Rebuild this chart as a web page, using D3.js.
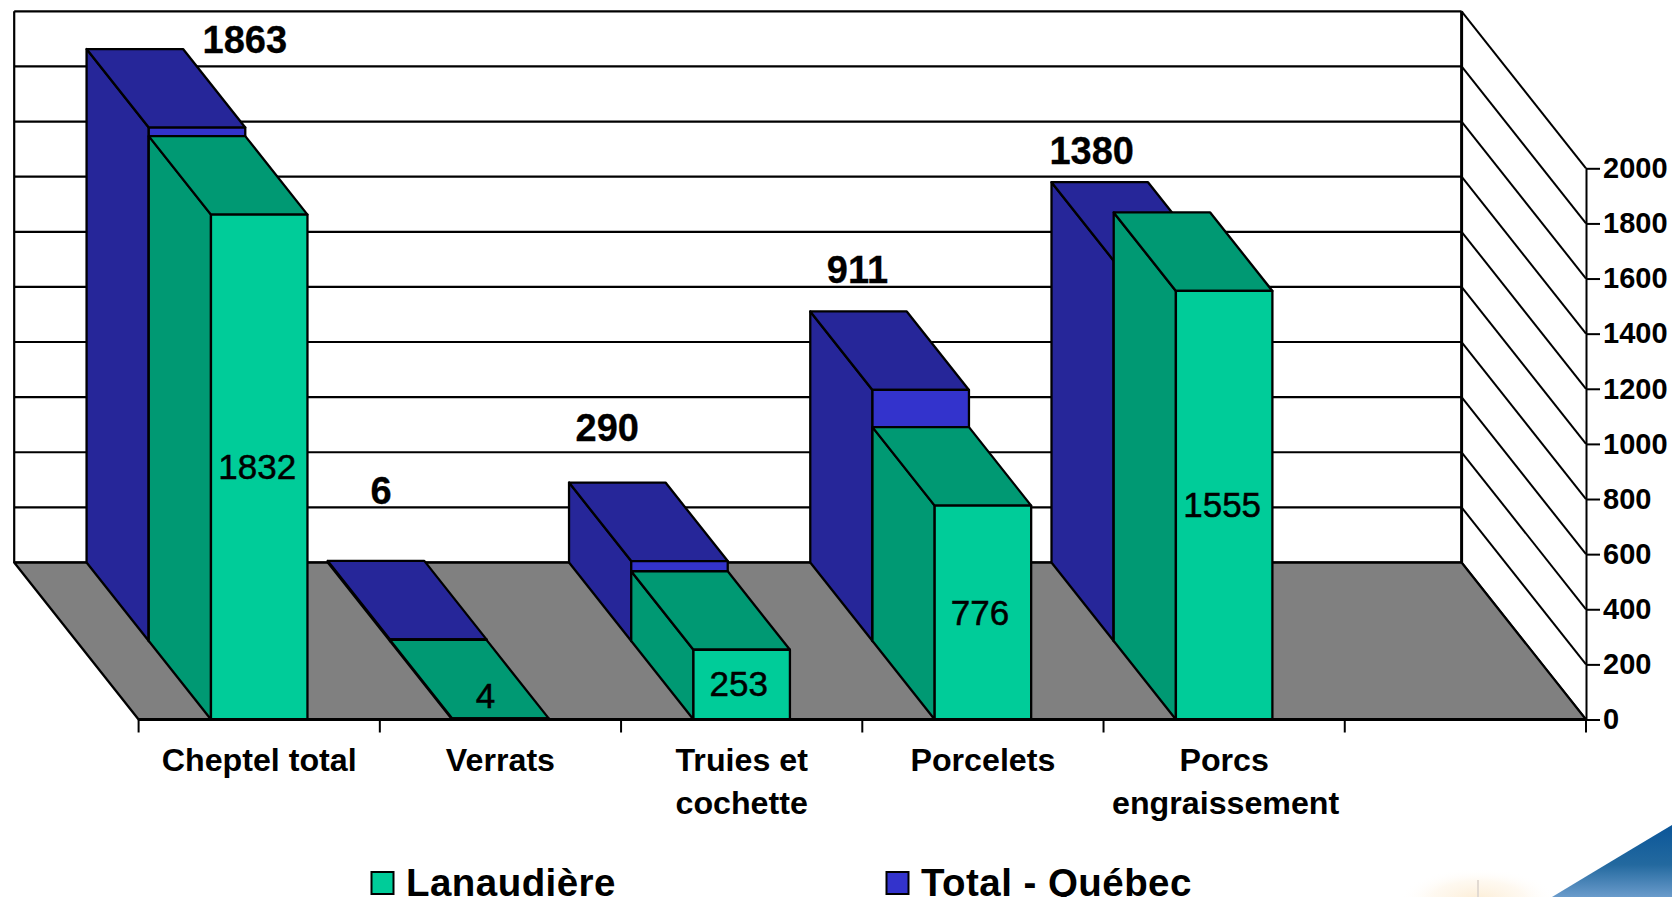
<!DOCTYPE html>
<html>
<head>
<meta charset="utf-8">
<script src="https://cdn.jsdelivr.net/npm/d3@7"></script>
<style>
  html, body { margin: 0; padding: 0; background: #fff; overflow: hidden; }
  svg { display: block; font-family: "Liberation Sans", Arial, sans-serif; }
</style>
</head>
<body>
<div class="chart"></div>
<script>
const categories = ["Cheptel total", "Verrats", "Truies et\ncochette", "Porcelets", "Porcs\nengraissement", ""];
const lanaudiere = [1832, 4, 253, 776, 1555];
const totalQuebec = [1863, 6, 290, 911, 1380];
const yTicks = [0, 200, 400, 600, 800, 1000, 1200, 1400, 1600, 1800, 2000];

// hand placed labels in the original, offsets from the bar they belong to
const totalNudge = [[110, 4], [5, -57], [-10, -42], [-1, -28], [-8, -18]];
const lanaNudge = [[-2, -1], [-15, -24], [-3, -1], [-3, 0], [-2, -1]];

const width = 1672, height = 897;
const frontLeft = 138.6, frontRight = 1586, frontBottom = 719.5, frontTop = 168.3;
const depthX = 124.4, depthY = 157;  // full floor depth

const svg = d3.select(".chart").append("svg")
    .attr("width", width)
    .attr("height", height);

const defs = svg.append("defs");
const glow = defs.append("radialGradient").attr("id", "glow");
glow.append("stop").attr("offset", "0%").attr("stop-color", "#fcebd0").attr("stop-opacity", 0.9);
glow.append("stop").attr("offset", "60%").attr("stop-color", "#fef6ea").attr("stop-opacity", 0.7);
glow.append("stop").attr("offset", "100%").attr("stop-color", "#ffffff").attr("stop-opacity", 0);
const sky = defs.append("linearGradient").attr("id", "sky")
    .attr("x1", "0%").attr("y1", "0%").attr("x2", "0%").attr("y2", "100%");
sky.append("stop").attr("offset", "0%").attr("stop-color", "#0b5699");
sky.append("stop").attr("offset", "55%").attr("stop-color", "#23699f");
sky.append("stop").attr("offset", "100%").attr("stop-color", "#6a9bcb");

const x = d3.scaleBand()
    .domain(categories)
    .range([frontLeft, frontRight])
    .paddingInner(0.6)
    .paddingOuter(0.3);

const y = d3.scaleLinear()
    .domain([0, 2000])
    .range([frontBottom, frontTop]);

// depth runs from 0 at the front edge of the floor to 2 at the back wall
const depth = d3.scaleLinear().domain([0, 2]).range([0, 1]);

function project(px, value, row) {
    const t = depth(row);
    return [px - t * depthX, y(value) - t * depthY];
}

const line = d3.line();
const stroke = "#000";

function poly(points, fill) {
    svg.append("path")
        .attr("d", line(points) + "Z")
        .attr("fill", fill)
        .attr("stroke", stroke)
        .attr("stroke-width", 2.3)
        .attr("stroke-linejoin", "round");
}

// corner decoration of the slide
svg.append("ellipse")
    .attr("cx", 1478).attr("cy", 900).attr("rx", 78).attr("ry", 32)
    .attr("fill", "url(#glow)");
svg.append("line")
    .attr("x1", 1478).attr("x2", 1478).attr("y1", 880).attr("y2", 897)
    .attr("stroke", "#e2dad2").attr("stroke-width", 2);
svg.append("path")
    .attr("d", "M1672,825 Q1610,862 1552,897 L1672,897 Z")
    .attr("fill", "url(#sky)");

// back wall and grid
const gridG = svg.append("g");
yTicks.forEach(t => {
    const [bx, by] = project(frontLeft, t, 2);
    const [rx, ry] = project(frontRight, t, 2);
    gridG.append("line")
        .attr("x1", bx).attr("y1", by).attr("x2", rx).attr("y2", ry)
        .attr("stroke", stroke).attr("stroke-width", 2.2);
    gridG.append("line")
        .attr("x1", rx).attr("y1", ry).attr("x2", frontRight).attr("y2", y(t))
        .attr("stroke", stroke).attr("stroke-width", 2);
});
const wallTopLeft = project(frontLeft, 2000, 2);
const wallBottomLeft = project(frontLeft, 0, 2);
const wallTopRight = project(frontRight, 2000, 2);
const wallBottomRight = project(frontRight, 0, 2);
gridG.append("line")
    .attr("x1", wallTopLeft[0]).attr("y1", wallTopLeft[1])
    .attr("x2", wallBottomLeft[0]).attr("y2", wallBottomLeft[1])
    .attr("stroke", stroke).attr("stroke-width", 2.2);
gridG.append("line")
    .attr("x1", wallTopRight[0]).attr("y1", wallTopRight[1])
    .attr("x2", wallBottomRight[0]).attr("y2", wallBottomRight[1])
    .attr("stroke", stroke).attr("stroke-width", 3);

// floor
poly([wallBottomLeft, wallBottomRight, project(frontRight, 0, 0), project(frontLeft, 0, 0)], "#808080");

// one box: front row is 0..1, back row is 1..2
function box(i, value, row, frontFill, sideFill) {
    const x0 = x(categories[i]), x1 = x0 + x.bandwidth();
    poly([project(x0, 0, row), project(x0, value, row), project(x0, value, row + 1), project(x0, 0, row + 1)], sideFill);
    poly([project(x0, value, row), project(x1, value, row), project(x1, value, row + 1), project(x0, value, row + 1)], sideFill);
    poly([project(x0, 0, row), project(x1, 0, row), project(x1, value, row), project(x0, value, row)], frontFill);
}

totalQuebec.forEach((v, i) => {
    box(i, v, 1, "#3333cc", "#262699");
    box(i, lanaudiere[i], 0, "#00cc99", "#009973");
});

// category axis
const bottomAxis = svg.append("g");
bottomAxis.append("line")
    .attr("x1", frontLeft).attr("x2", frontRight)
    .attr("y1", frontBottom).attr("y2", frontBottom)
    .attr("stroke", stroke).attr("stroke-width", 2.8);
d3.range(categories.length + 1).forEach(i => {
    const tx = frontLeft + i * x.step();
    bottomAxis.append("line")
        .attr("x1", tx).attr("x2", tx)
        .attr("y1", frontBottom).attr("y2", frontBottom + 13)
        .attr("stroke", stroke).attr("stroke-width", 2);
});
categories.forEach(c => {
    c.split("\n").forEach((part, j) => {
        bottomAxis.append("text")
            .attr("x", x(c) + x.bandwidth() / 2 + (part === "engraissement" ? 1.5 : 0))
            .attr("y", 771 + j * 43)
            .attr("text-anchor", "middle")
            .attr("font-size", 32.2)
            .attr("font-weight", "bold")
            .text(part);
    });
});

// value axis
const rightAxis = svg.append("g")
    .attr("transform", `translate(${frontRight},0)`)
    .call(d3.axisRight(y).tickValues(yTicks).tickSize(14).tickPadding(3).tickSizeOuter(0).tickFormat(d3.format("d")));
rightAxis.select(".domain").attr("stroke", stroke).attr("stroke-width", 2);
rightAxis.selectAll(".tick line").attr("stroke", stroke).attr("stroke-width", 2);
rightAxis.selectAll(".tick text")
    .attr("font-family", '"Liberation Sans", Arial, sans-serif')
    .attr("font-size", 29)
    .attr("font-weight", "bold")
    .attr("fill", "#000");

// value labels
totalQuebec.forEach((v, i) => {
    const x0 = x(categories[i]) + x.bandwidth() / 2;
    const [lx, ly] = project(x0, v, 2);
    svg.append("text")
        .attr("x", lx + totalNudge[i][0])
        .attr("y", ly + totalNudge[i][1])
        .attr("text-anchor", "middle")
        .attr("font-size", 38)
        .attr("font-weight", "bold")
        .attr("stroke", "#000").attr("stroke-width", 0.3)
        .text(v);
});
lanaudiere.forEach((v, i) => {
    const x0 = x(categories[i]) + x.bandwidth() / 2;
    svg.append("text")
        .attr("x", x0 + lanaNudge[i][0])
        .attr("y", y(v / 2) + lanaNudge[i][1])
        .attr("dy", "0.36em")
        .attr("text-anchor", "middle")
        .attr("font-size", 35)
        .attr("stroke", "#000").attr("stroke-width", 0.5)
        .text(v);
});

// legend
const legendItems = [
    { name: "Lanaudière", fill: "#00cc99", x: 371.5, textX: 406 },
    { name: "Total - Québec", fill: "#3333cc", x: 886.5, textX: 921 }
];
legendItems.forEach(d => {
    svg.append("rect")
        .attr("x", d.x).attr("y", 872)
        .attr("width", 22).attr("height", 22)
        .attr("fill", d.fill)
        .attr("stroke", stroke).attr("stroke-width", 2);
    svg.append("text")
        .attr("x", d.textX).attr("y", 895.5)
        .attr("font-size", 38.5)
        .attr("letter-spacing", 0.45)
        .attr("font-weight", "bold")
        .text(d.name);
});
</script>
</body>
</html>
